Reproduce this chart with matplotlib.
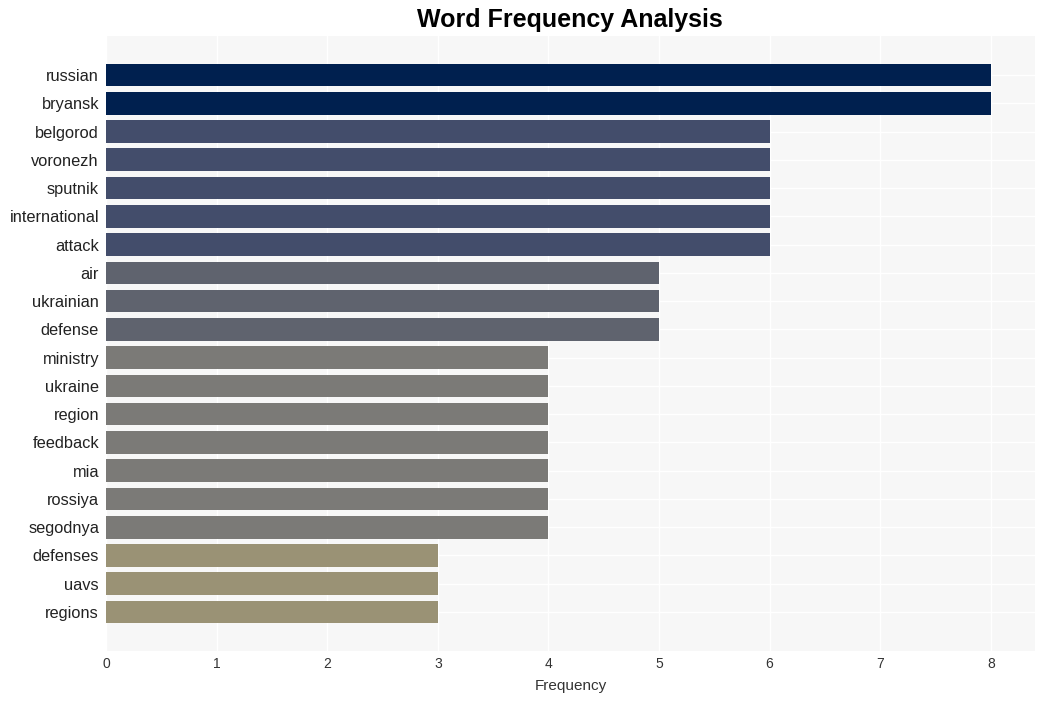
import matplotlib
matplotlib.use("Agg")
import matplotlib.pyplot as plt

words = ["russian", "bryansk", "belgorod", "voronezh", "sputnik", "international", "attack",
         "air", "ukrainian", "defense", "ministry", "ukraine", "region", "feedback", "mia",
         "rossiya", "segodnya", "defenses", "uavs", "regions"]
counts = [8, 8, 6, 6, 6, 6, 6, 5, 5, 5, 4, 4, 4, 4, 4, 4, 4, 3, 3, 3]
color_by_count = {8: "#00204f", 6: "#434d6b", 5: "#5f636e", 4: "#7b7a77", 3: "#9a9275"}

plt.rcParams['font.family'] = ['Liberation Sans', 'DejaVu Sans']

fig = plt.figure(figsize=(10.45, 7.01), dpi=100)
ax = fig.add_axes([106/1045, 1-651/701, (1035-106)/1045, (651-36)/701])
ax.set_facecolor("#f7f7f7")
ypos = list(range(len(words)))
ax.barh(ypos, counts, height=0.8, color=[color_by_count[c] for c in counts], zorder=2)
ax.set_yticks(ypos)
ax.set_yticklabels(words, fontsize=11.8, color="#222222")
ax.set_ylim(len(words) - 1 + 1.38, -1.38)
ax.set_xlim(0, 8.4)
ax.set_xticks(range(0, 9))
ax.tick_params(axis='x', labelsize=10, colors="#333333", length=0, pad=4)
ax.tick_params(axis='y', length=0, pad=5)
ax.grid(True, color="white", linewidth=1, zorder=0)
ax.set_axisbelow(True)
for s in ax.spines.values():
    s.set_visible(False)
ax.set_xlabel("Frequency", fontsize=11, color="#333333", labelpad=6)
fig.text(570/1045, 1-20/701, "Word Frequency Analysis", ha="center", va="center",
         fontsize=18, fontweight="bold")
fig.savefig("out.png", dpi=100)
